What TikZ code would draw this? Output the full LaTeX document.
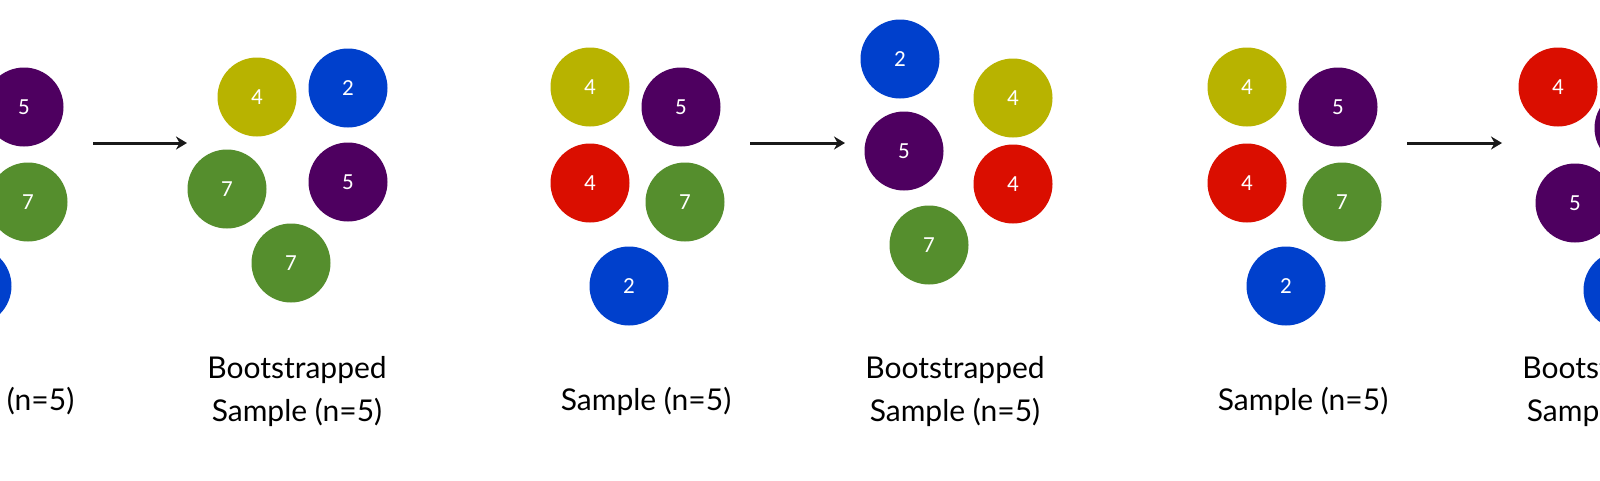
\documentclass[tikz,border=0pt]{standalone}
\usepackage{fontspec}
\setmainfont{Lato}
\newfontfamily\numfont{Carlito}
\usetikzlibrary{arrows.meta}
\definecolor{cyel}{HTML}{B8B300}
\definecolor{cpur}{HTML}{4E0060}
\definecolor{cred}{HTML}{DA0E00}
\definecolor{cgrn}{HTML}{558E2D}
\definecolor{cblu}{HTML}{0040CC}
\tikzset{
  ball/.style={circle, minimum size=79pt, inner sep=0pt, text=white,
    font=\numfont\fontsize{23}{23}\selectfont},
  yel/.style={ball, fill=cyel},
  pur/.style={ball, fill=cpur},
  red/.style={ball, fill=cred},
  grn/.style={ball, fill=cgrn},
  blu/.style={ball, fill=cblu},
  lbl/.style={font=\fontsize{30}{43}\selectfont, align=center, inner sep=0pt, text=black, anchor=base},
  arr/.style={line width=3pt, draw=black!90, -{Stealth[length=11pt,width=13pt]}}
}
\begin{document}
\begin{tikzpicture}[x=1pt,y=-1pt]
\useasboundingbox (0,0) rectangle (1600,480);
\clip (0,0) rectangle (1600,480);
\fill[white] (0,0) rectangle (1600,480);
% ---------- group 1 (partial) ----------
\node[pur] (a5) at (24,107) {5};
\node[grn] (a7) at (28,202) {7};
\node[blu] (a2) at (-28,286) {2};
\coordinate (a1s) at (93,143);
\coordinate (a1e) at (187,143);
\draw[arr] (a1s) -- (a1e);
\node[yel] (b4) at (257,97) {4};
\node[blu] (b2) at (348,88) {2};
\node[grn] (b7) at (227,189) {7};
\node[pur] (b5) at (348,182) {5};
\node[grn] (b7b) at (291,263) {7};
\node[lbl] (la) at (-11,410) {Sample (n=5)};
\node[lbl] (lb) at (297,421) {Bootstrapped\\Sample (n=5)};
% ---------- group 2 ----------
\node[yel] (c4) at (590,87) {4};
\node[pur] (c5) at (681,107) {5};
\node[red] (c4b) at (590,183) {4};
\node[grn] (c7) at (685,202) {7};
\node[blu] (c2) at (629,286) {2};
\coordinate (a2s) at (750,143);
\coordinate (a2e) at (845,143);
\draw[arr] (a2s) -- (a2e);
\node[blu] (d2) at (900,59) {2};
\node[yel] (d4) at (1013,98) {4};
\node[pur] (d5) at (904,151) {5};
\node[red] (d4b) at (1013,184) {4};
\node[grn] (d7) at (929,245) {7};
\node[lbl] (lc) at (646,410) {Sample (n=5)};
\node[lbl] (ld) at (955,421) {Bootstrapped\\Sample (n=5)};
% ---------- group 3 ----------
\node[yel] (e4) at (1247,87) {4};
\node[pur] (e5) at (1338,107) {5};
\node[red] (e4b) at (1247,183) {4};
\node[grn] (e7) at (1342,202) {7};
\node[blu] (e2) at (1286,286) {2};
\coordinate (a3s) at (1407,143);
\coordinate (a3e) at (1502,143);
\draw[arr] (a3s) -- (a3e);
\node[red] (f4) at (1558,87) {4};
\node[pur] (f5a) at (1634,128) {5};
\node[pur] (f5) at (1575,203) {5};
\node[blu] (f2) at (1623,290) {2};
\node[lbl] (le) at (1303,410) {Sample (n=5)};
\node[lbl] (lf) at (1612,421) {Bootstrapped\\Sample (n=5)};
\end{tikzpicture}
\end{document}
